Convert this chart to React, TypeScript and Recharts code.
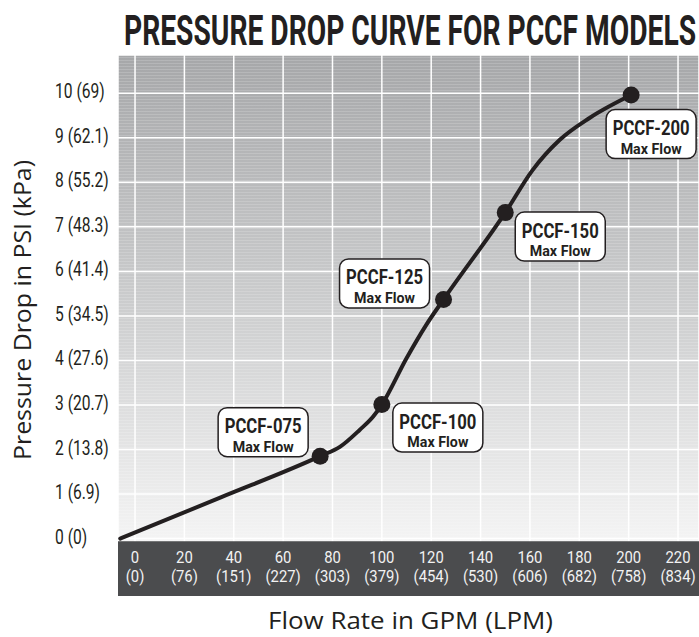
import { LineChart, Line, XAxis, YAxis, CartesianGrid, ReferenceArea } from 'recharts'

// curve, flow in GPM, pressure drop in PSI
const FLOW_GPM = [-6, 35, 75, 83, 91, 96.5, 100, 110, 118, 125, 150, 161, 172, 184, 201]
const PRESSURE_PSI = [0, 0.93, 1.85, 2.06, 2.44, 2.74, 3.01, 4.05, 4.8, 5.37, 7.32, 8.27, 8.95, 9.44, 9.96]
const MODEL = ['', '', 'PCCF-075', '', '', '', 'PCCF-100', '', '', 'PCCF-125', 'PCCF-150', '', '', '', 'PCCF-200']

const X_TICKS = [0, 20, 40, 60, 80, 100, 120, 140, 160, 180, 200, 220]
const X_TICK_LPM = ['(0)', '(76)', '(151)', '(227)', '(303)', '(379)', '(454)', '(530)', '(606)', '(682)', '(758)', '(834)']
const Y_TICKS = [0, 1, 2, 3, 4, 5, 6, 7, 8, 9, 10]
const Y_TICK_KPA = ['(0)', '(6.9)', '(13.8)', '(20.7)', '(27.6)', '(34.5)', '(41.4)', '(48.3)', '(55.2)', '(62.1)', '(69)']

const data = FLOW_GPM.map((gpm, i) => ({ gpm, psi: PRESSURE_PSI[i], model: MODEL[i] }))

// where each callout box sits relative to its dot
const CALLOUT: Record<string, { dx: number; dy: number }> = {
  'PCCF-075': { dx: -57, dy: -24 },
  'PCCF-100': { dx: 56, dy: 23 },
  'PCCF-125': { dx: -59, dy: -16 },
  'PCCF-150': { dx: 55, dy: 24 },
  'PCCF-200': { dx: 20, dy: 39 },
}

const INK = '#231f20'
const COND = 'Roboto, sans-serif'
const SQ = 0.82 // horizontal squeeze to fake a condensed face
const TITLE_SQ = 0.6

function ModelDot(props: any) {
  const { cx, cy, payload, index } = props
  if (!payload.model) return <g key={index} />
  const c = CALLOUT[payload.model]
  const bx = cx + c.dx
  const by = cy + c.dy
  return (
    <g key={index}>
      <circle cx={cx} cy={cy} r={8.5} fill={INK} />
      <rect x={bx - 45} y={by - 24.5} width={90} height={49} rx={9} fill="#fff" stroke={INK} strokeWidth={1.5} />
      <g transform={`translate(${bx},${by}) scale(${SQ},1)`}>
        <text x={-38.5 / SQ} y={1} fontFamily={COND} fontWeight={700} fill={INK} fontSize={19.5}
          textLength={77 / SQ} lengthAdjust="spacingAndGlyphs">{payload.model}</text>
        <text x={-30.5 / SQ} y={19.5} fontFamily={COND} fontWeight={700} fill={INK} fontSize={14.5}
          textLength={61 / SQ} lengthAdjust="spacingAndGlyphs">Max Flow</text>
      </g>
    </g>
  )
}

function XTick({ x, payload }: any) {
  const i = X_TICKS.indexOf(payload.value)
  return (
    <g transform={`translate(${x},0) scale(0.9,1)`}>
      <text x={0} y={563.5} textAnchor="middle" fontFamily={COND} fontSize={16.5} fill="#f2f2f2">{payload.value}</text>
      <text x={0} y={582.5} textAnchor="middle" fontFamily={COND} fontSize={16.5} fill="#f2f2f2">{X_TICK_LPM[i]}</text>
    </g>
  )
}

function YTick({ y, payload }: any) {
  const i = Y_TICKS.indexOf(payload.value)
  return (
    <g transform={`translate(55,${y + 5}) scale(0.8,1)`}>
      <text textAnchor="start" fontFamily={COND} fontSize={19.5} fill={INK}>
        {payload.value} {Y_TICK_KPA[i]}
      </text>
    </g>
  )
}

export default function App() {
  return (
    <div style={{ position: 'relative', width: 699, height: 637, background: '#fff' }}>
      <style>{'body{margin:0;overflow:hidden}'}</style>
      <svg width={699} height={70} style={{ position: 'absolute', left: 0, top: 0 }}>
        <g transform={`translate(124,45) scale(${TITLE_SQ},1)`}>
          <text x={0} y={0} fontFamily={COND} fontWeight={700} fontSize={42}
            fill={INK} textLength={572 / TITLE_SQ} lengthAdjust="spacingAndGlyphs">PRESSURE DROP CURVE FOR PCCF MODELS</text>
        </g>
      </svg>
      <div style={{ position: 'absolute', left: 0, top: 0 }}>
        <LineChart width={699} height={637} data={data} margin={{ top: 55, right: 0, left: 0, bottom: 0 }}>
          <defs>
            <linearGradient id="bgGrad" x1="0" y1="0" x2="0" y2="1">
              <stop offset="0" stopColor="#a6a7a9" />
              <stop offset="0.45" stopColor="#cbcccd" />
              <stop offset="0.9" stopColor="#f4f4f4" />
              <stop offset="1" stopColor="#f8f8f8" />
            </linearGradient>
            <pattern id="stripes" width={6} height={3} patternUnits="userSpaceOnUse">
              <rect x={0} y={0} width={6} height={1} fill="#fff" fillOpacity={0.16} />
            </pattern>
          </defs>
          <CartesianGrid fill="url(#bgGrad)" fillOpacity={1} stroke="none" horizontal={false} vertical={false} />
          <CartesianGrid fill="url(#stripes)" fillOpacity={1} stroke="#ffffff" strokeWidth={1.5} />
          <XAxis
            dataKey="gpm"
            type="number"
            domain={[-6.9, 228.5]}
            ticks={X_TICKS}
            allowDataOverflow
            height={41}
            axisLine={false}
            tickLine={false}
            tick={<XTick />}
            label={{
              content: () => (
                <text x={268} y={629} fontFamily="'Open Sans', sans-serif" fontSize={24}
                  fill={INK} textLength={285} lengthAdjust="spacingAndGlyphs">Flow Rate in GPM (LPM)</text>
              ),
            }}
          />
          <YAxis
            type="number"
            domain={[-1.29, 10.86]}
            ticks={Y_TICKS}
            allowDataOverflow
            width={118}
            axisLine={false}
            tickLine={false}
            tick={<YTick />}
            label={{
              content: () => (
                <text transform="translate(31,460) rotate(-90)" fontFamily="'Open Sans', sans-serif"
                  fontSize={24} fill={INK} textLength={300} lengthAdjust="spacingAndGlyphs">Pressure Drop in PSI (kPa)</text>
              ),
            }}
          />
          <ReferenceArea y1={-1.29} y2={-0.06} fill="#4b4c4e" fillOpacity={1} stroke="none" />
          <Line
            type="monotone"
            dataKey="psi"
            stroke={INK}
            strokeWidth={4}
            strokeLinecap="round"
            dot={ModelDot}
            activeDot={false}
            isAnimationActive={false}
          />
        </LineChart>
      </div>
    </div>
  )
}
